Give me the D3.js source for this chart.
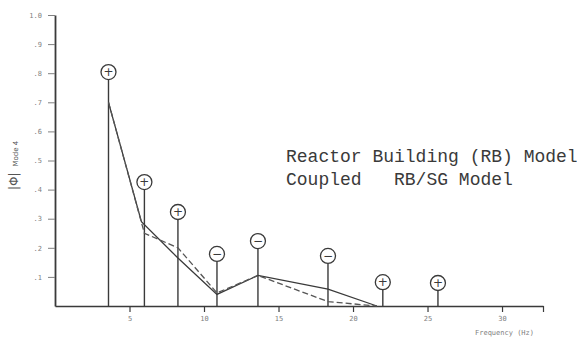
<!DOCTYPE html>
<html><head><meta charset="utf-8">
<script src="https://cdn.jsdelivr.net/npm/d3@7"></script>
<style>
html,body{margin:0;padding:0;background:#fff;}
svg{display:block;}
</style></head>
<body>
<svg id="chart" width="577" height="340"></svg>
<script>
// Mode 4 stem data (frequency Hz, |phi| amplitude, sign)
const stemFreq  = [3.59, 6.0, 8.25, 10.87, 13.62, 18.32, 22.0, 25.7];
const stemValue = [0.804, 0.426, 0.323, 0.179, 0.223, 0.172, 0.082, 0.079];
const stemSign  = ["+", "+", "+", "−", "−", "−", "+", "+"];

// Reactor Building (RB) model curve (solid)
const rbFreq  = [3.59, 5.8, 8.25, 10.87, 13.62, 18.32, 21.6];
const rbValue = [0.70, 0.29, 0.165, 0.04, 0.105, 0.058, 0.0];
// Coupled RB/SG model curve (dashed)
const cpFreq  = [3.59, 6.0, 8.25, 10.87, 13.62, 18.32, 21.6];
const cpValue = [0.70, 0.25, 0.20, 0.045, 0.105, 0.015, 0.0];

const xTicks = [5, 10, 15, 20, 25, 30];
const xTickLabels = ["5", "10", "15", "20", "25", "30"];
const yTicks = [0.1, 0.2, 0.3, 0.4, 0.5, 0.6, 0.7, 0.8, 0.9, 1.0];
const yTickLabels = [".1", ".2", ".3", ".4", ".5", ".6", ".7", ".8", ".9", "1.0"];
const legendLabels = ["Reactor Building (RB) Model", "Coupled   RB/SG Model"];

const svg = d3.select("#chart");
const x = d3.scaleLinear().domain([0, 32.75]).range([55, 543]);
const y = d3.scaleLinear().domain([0, 1]).range([306, 15]);
const ink = "#3a3a3a";
const grey = "#808080";

// axes
const xAxis = d3.axisBottom(x).tickValues(xTicks.concat([32.75]))
  .tickFormat((d) => { const i = xTicks.indexOf(d); return i >= 0 ? xTickLabels[i] : ""; })
  .tickSize(6).tickSizeOuter(0).tickPadding(4);
const gx = svg.append("g").attr("transform", `translate(0,${y(0)})`).call(xAxis);
gx.select(".domain").attr("stroke", ink).attr("stroke-width", 1.6);
gx.selectAll(".tick line").attr("stroke", ink).attr("stroke-width", 1.2);
gx.selectAll(".tick text").attr("fill", grey).attr("font-size", 7).attr("font-family", "DejaVu Sans Mono, monospace");

const yAxis = d3.axisLeft(y).tickValues(yTicks)
  .tickFormat((d, i) => yTickLabels[i]).tickSize(7).tickSizeOuter(0).tickPadding(6);
const gy = svg.append("g").attr("transform", `translate(${x(0)},0)`).call(yAxis);
gy.select(".domain").attr("stroke", ink).attr("stroke-width", 1.8);
gy.selectAll(".tick line").attr("stroke", grey).attr("stroke-width", 1);
gy.selectAll(".tick text").attr("fill", grey).attr("font-size", 7).attr("font-family", "DejaVu Sans Mono, monospace");

// stems
const r = 7.5;
const stems = svg.append("g");
stemFreq.forEach((f, i) => {
  stems.append("line")
    .attr("x1", x(f)).attr("x2", x(f))
    .attr("y1", y(0)).attr("y2", y(stemValue[i]) + r)
    .attr("stroke", ink).attr("stroke-width", 1.4);
  stems.append("circle")
    .attr("cx", x(f)).attr("cy", y(stemValue[i])).attr("r", r)
    .attr("fill", "#fff").attr("stroke", ink).attr("stroke-width", 1.3);
  stems.append("text")
    .attr("x", x(f)).attr("y", y(stemValue[i]) + 4)
    .attr("text-anchor", "middle").attr("font-size", 12)
    .attr("font-family", "DejaVu Sans, sans-serif").attr("fill", ink)
    .text(stemSign[i]);
});

// curves
const line = d3.line().x((d) => x(d[0])).y((d) => y(d[1]));
svg.append("path").datum(rbFreq.map((f, i) => [f, rbValue[i]]))
  .attr("d", line).attr("fill", "none").attr("stroke", ink).attr("stroke-width", 1.3);
svg.append("path").datum(cpFreq.map((f, i) => [f, cpValue[i]]))
  .attr("d", line).attr("fill", "none").attr("stroke", "#555").attr("stroke-width", 1.3)
  .attr("stroke-dasharray", "6,3");

// legend text
const leg = svg.append("g").attr("font-family", "Liberation Mono, DejaVu Sans Mono, monospace")
  .attr("font-size", 18).attr("fill", "#3a3a3a");
legendLabels.forEach((t, i) => {
  leg.append("text").attr("x", 286).attr("y", 162 + i * 23)
    .style("white-space", "pre").text(t);
});

// y label
const yl = svg.append("text")
  .attr("transform", "translate(18,190) rotate(-90)")
  .attr("fill", "#555").attr("font-family", "DejaVu Sans, sans-serif");
yl.append("tspan").attr("font-size", 12).text("|Φ|");
yl.append("tspan").attr("font-size", 7).attr("dx", 6).text("Mode 4");

// x label
svg.append("text").attr("x", 475).attr("y", 335)
  .attr("font-size", 7).attr("fill", grey)
  .attr("font-family", "DejaVu Sans Mono, monospace")
  .text("Frequency (Hz)");
</script>
</body></html>
